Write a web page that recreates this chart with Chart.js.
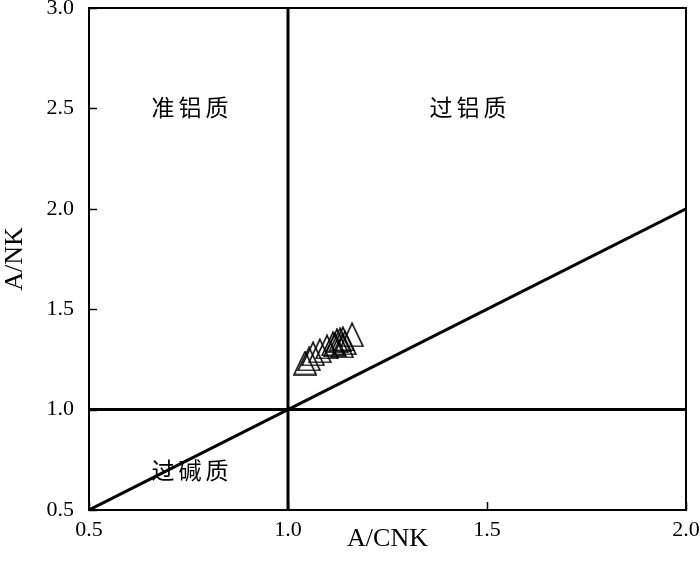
<!DOCTYPE html>
<html>
<head>
<meta charset="utf-8">
<script src="https://cdn.jsdelivr.net/npm/chart.js@4.4.1/dist/chart.umd.min.js"></script>
<style>
  html, body { margin: 0; padding: 0; background: #fff; }
  #wrap { width: 700px; height: 574px; }
</style>
</head>
<body>
<div id="wrap"><canvas id="acnkChart"></canvas></div>
<script>
// sample points (A/CNK, A/NK)
const acnk = [1.043, 1.053, 1.063, 1.080, 1.098, 1.113, 1.118, 1.123, 1.131, 1.136, 1.138, 1.143, 1.161];
const ank  = [1.232, 1.252, 1.277, 1.292, 1.312, 1.327, 1.322, 1.342, 1.347, 1.317, 1.352, 1.332, 1.372];

// field boundaries
const lineVertX = [1.0, 1.0];
const lineVertY = [0.5, 3.0];
const lineHorzX = [0.5, 2.0];
const lineHorzY = [1.0, 1.0];
const lineDiagX = [0.5, 2.0];
const lineDiagY = [0.5, 2.0];

const tickValues = [0.5, 1.0, 1.5, 2.0, 2.5, 3.0];

// field names
const fieldNames = ['准铝质', '过铝质', '过碱质'];
const fieldX = [0.754, 1.452, 0.754];
const fieldY = [2.507, 2.507, 0.70];

function toPoints(xs, ys) {
  return xs.map((x, i) => ({ x: x, y: ys[i] }));
}

// open triangle marker, a bit taller than equilateral
const tri = document.createElement('canvas');
tri.width = 24;
tri.height = 25;
(function () {
  const t = tri.getContext('2d');
  t.strokeStyle = '#000';
  t.lineWidth = 1.6;
  t.lineJoin = 'miter';
  t.beginPath();
  t.moveTo(12, 1);
  t.lineTo(23, 24);
  t.lineTo(1, 24);
  t.closePath();
  t.stroke();
})();

const frame = {
  id: 'frame',
  afterDraw(chart) {
    const c = chart.ctx;
    const a = chart.chartArea;
    const sx = chart.scales.x;
    const sy = chart.scales.y;
    c.save();
    c.strokeStyle = '#000';
    c.lineWidth = 2;
    c.strokeRect(a.left, a.top, a.right - a.left, a.bottom - a.top);
    // inward tick marks
    c.lineWidth = 1.5;
    c.beginPath();
    sx.ticks.forEach(t => {
      const px = Math.round(sx.getPixelForValue(t.value)) + 0.5;
      c.moveTo(px, a.bottom);
      c.lineTo(px, a.bottom - 8);
    });
    sy.ticks.forEach(t => {
      const py = Math.round(sy.getPixelForValue(t.value)) + 0.5;
      c.moveTo(a.left, py);
      c.lineTo(a.left + 8, py);
    });
    c.stroke();
    // field labels
    c.fillStyle = '#000';
    c.font = '23px "Noto Sans CJK SC"';
    c.textAlign = 'center';
    c.textBaseline = 'middle';
    if ('letterSpacing' in c) c.letterSpacing = '4px';
    fieldNames.forEach((n, i) => {
      c.fillText(n, sx.getPixelForValue(fieldX[i]) + 2, sy.getPixelForValue(fieldY[i]));
    });
    c.restore();
  }
};

new Chart(document.getElementById('acnkChart'), {
  type: 'scatter',
  data: {
    datasets: [
      {
        type: 'line',
        data: toPoints(lineVertX, lineVertY),
        borderColor: '#000',
        borderWidth: 3,
        pointRadius: 0,
        fill: false
      },
      {
        type: 'line',
        data: toPoints(lineHorzX, lineHorzY),
        borderColor: '#000',
        borderWidth: 3,
        pointRadius: 0,
        fill: false
      },
      {
        type: 'line',
        data: toPoints(lineDiagX, lineDiagY),
        borderColor: '#000',
        borderWidth: 3,
        pointRadius: 0,
        fill: false
      },
      {
        label: 'samples',
        data: toPoints(acnk, ank),
        pointStyle: tri,
        pointRadius: 12,
        borderColor: '#000',
        backgroundColor: 'rgba(0,0,0,0)'
      }
    ]
  },
  options: {
    responsive: true,
    maintainAspectRatio: false,
    animation: false,
    layout: { autoPadding: false, padding: { left: 0, top: 8, right: 14, bottom: 0 } },
    plugins: {
      legend: { display: false },
      tooltip: { enabled: false }
    },
    scales: {
      x: {
        type: 'linear',
        min: 0.5,
        max: 2.0,
        afterBuildTicks(scale) {
          scale.ticks = tickValues.filter(v => v <= 2.0).map(v => ({ value: v }));
        },
        afterFit(scale) {
          scale.height = 64;
          scale.paddingLeft = 0;
          scale.paddingRight = 0;
        },
        grid: { display: false, drawTicks: false },
        border: { display: false },
        ticks: {
          padding: 7,
          color: '#000',
          font: { family: '"Liberation Serif"', size: 22 },
          callback: v => v.toFixed(1)
        },
        title: {
          display: true,
          text: 'A/CNK',
          color: '#000',
          font: { family: '"Liberation Serif"', size: 26 },
          padding: { top: 0, bottom: 19 }
        }
      },
      y: {
        type: 'linear',
        min: 0.5,
        max: 3.0,
        afterBuildTicks(scale) {
          scale.ticks = tickValues.map(v => ({ value: v }));
        },
        afterFit(scale) {
          scale.width = 89;
          scale.paddingTop = 0;
          scale.paddingBottom = 0;
        },
        grid: { display: false, drawTicks: false },
        border: { display: false },
        ticks: {
          padding: 15,
          color: '#000',
          font: { family: '"Liberation Serif"', size: 22 },
          callback: v => v.toFixed(1)
        },
        title: {
          display: true,
          text: 'A/NK',
          color: '#000',
          font: { family: '"Liberation Serif"', size: 26 },
          padding: { top: 0, bottom: 0 }
        }
      }
    }
  },
  plugins: [frame]
});
</script>
</body>
</html>
